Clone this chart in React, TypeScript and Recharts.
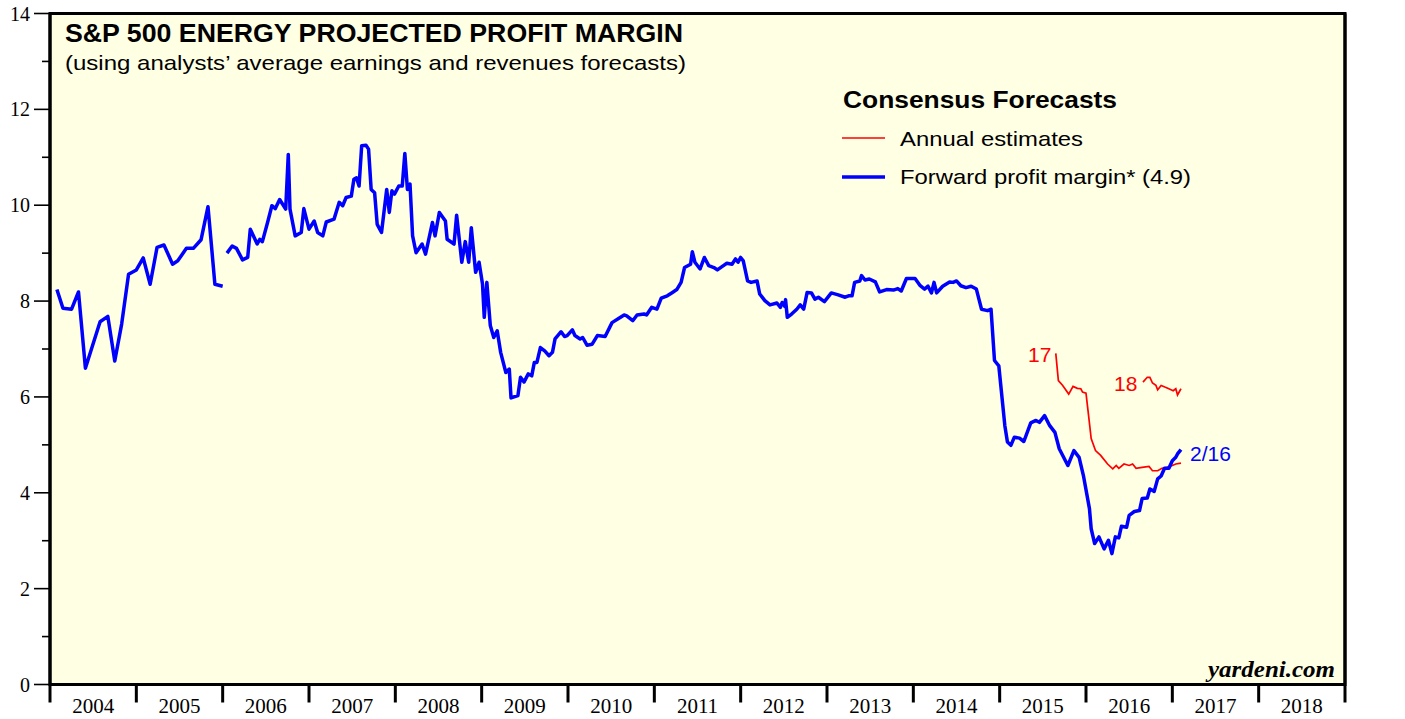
import React from "react";
import {
  LineChart,
  Line,
  XAxis,
  YAxis,
  CartesianGrid,
  ReferenceArea,
} from "recharts";

// decimal year / profit margin (%)
const forwardMargin: { t: number; v: number | null }[] = [
  { t: 2004.08, v: 8.24 }, { t: 2004.15, v: 7.85 }, { t: 2004.25, v: 7.83 },
  { t: 2004.33, v: 8.19 }, { t: 2004.41, v: 6.6 }, { t: 2004.58, v: 7.57 },
  { t: 2004.67, v: 7.68 }, { t: 2004.75, v: 6.75 }, { t: 2004.83, v: 7.52 },
  { t: 2004.91, v: 8.56 }, { t: 2005.0, v: 8.65 }, { t: 2005.08, v: 8.9 },
  { t: 2005.16, v: 8.35 }, { t: 2005.24, v: 9.12 }, { t: 2005.32, v: 9.17 },
  { t: 2005.42, v: 8.77 }, { t: 2005.48, v: 8.84 }, { t: 2005.58, v: 9.1 },
  { t: 2005.66, v: 9.1 }, { t: 2005.75, v: 9.28 }, { t: 2005.83, v: 9.97 },
  { t: 2005.91, v: 8.35 }, { t: 2006.0, v: 8.31 }, { t: 2006.02, v: null },
  { t: 2006.05, v: 9.0 }, { t: 2006.11, v: 9.15 }, { t: 2006.16, v: 9.1 },
  { t: 2006.23, v: 8.86 }, { t: 2006.29, v: 8.91 }, { t: 2006.32, v: 9.5 },
  { t: 2006.4, v: 9.19 }, { t: 2006.43, v: 9.29 }, { t: 2006.46, v: 9.24 },
  { t: 2006.52, v: 9.64 }, { t: 2006.57, v: 9.99 }, { t: 2006.61, v: 9.93 },
  { t: 2006.66, v: 10.12 }, { t: 2006.73, v: 9.92 }, { t: 2006.76, v: 11.06 },
  { t: 2006.78, v: 9.92 }, { t: 2006.84, v: 9.36 }, { t: 2006.91, v: 9.43 },
  { t: 2006.94, v: 9.93 }, { t: 2007.0, v: 9.5 }, { t: 2007.06, v: 9.67 },
  { t: 2007.1, v: 9.43 }, { t: 2007.16, v: 9.36 }, { t: 2007.2, v: 9.65 },
  { t: 2007.29, v: 9.71 }, { t: 2007.35, v: 10.06 }, { t: 2007.39, v: 9.99 },
  { t: 2007.43, v: 10.16 }, { t: 2007.49, v: 10.19 }, { t: 2007.52, v: 10.54 },
  { t: 2007.55, v: 10.57 }, { t: 2007.58, v: 10.4 }, { t: 2007.61, v: 11.24 },
  { t: 2007.66, v: 11.25 }, { t: 2007.69, v: 11.17 }, { t: 2007.72, v: 10.33 },
  { t: 2007.76, v: 10.26 }, { t: 2007.79, v: 9.6 }, { t: 2007.84, v: 9.43 },
  { t: 2007.9, v: 10.33 }, { t: 2007.93, v: 9.85 }, { t: 2007.96, v: 10.3 },
  { t: 2007.99, v: 10.23 }, { t: 2008.04, v: 10.4 }, { t: 2008.08, v: 10.4 },
  { t: 2008.11, v: 11.08 }, { t: 2008.14, v: 10.33 }, { t: 2008.17, v: 10.44 },
  { t: 2008.2, v: 9.36 }, { t: 2008.24, v: 9.01 }, { t: 2008.31, v: 9.19 },
  { t: 2008.35, v: 8.98 }, { t: 2008.43, v: 9.64 }, { t: 2008.46, v: 9.36 },
  { t: 2008.51, v: 9.85 }, { t: 2008.58, v: 9.67 }, { t: 2008.6, v: 9.29 },
  { t: 2008.68, v: 9.19 }, { t: 2008.71, v: 9.79 }, { t: 2008.77, v: 8.81 },
  { t: 2008.81, v: 9.24 }, { t: 2008.85, v: 8.81 }, { t: 2008.88, v: 9.53 },
  { t: 2008.93, v: 8.6 }, { t: 2008.97, v: 8.81 }, { t: 2009.01, v: 8.35 },
  { t: 2009.03, v: 7.66 }, { t: 2009.06, v: 8.39 }, { t: 2009.1, v: 7.49 },
  { t: 2009.14, v: 7.24 }, { t: 2009.18, v: 7.38 }, { t: 2009.22, v: 6.93 },
  { t: 2009.28, v: 6.51 }, { t: 2009.32, v: 6.58 }, { t: 2009.34, v: 5.98 },
  { t: 2009.42, v: 6.03 }, { t: 2009.45, v: 6.41 }, { t: 2009.49, v: 6.31 },
  { t: 2009.54, v: 6.48 }, { t: 2009.58, v: 6.44 }, { t: 2009.61, v: 6.72 },
  { t: 2009.64, v: 6.72 }, { t: 2009.68, v: 7.03 }, { t: 2009.73, v: 6.96 },
  { t: 2009.78, v: 6.86 }, { t: 2009.82, v: 6.93 }, { t: 2009.85, v: 7.21 },
  { t: 2009.92, v: 7.36 }, { t: 2009.96, v: 7.26 }, { t: 2009.99, v: 7.28 },
  { t: 2010.05, v: 7.4 }, { t: 2010.08, v: 7.28 }, { t: 2010.14, v: 7.21 },
  { t: 2010.17, v: 7.24 }, { t: 2010.22, v: 7.08 }, { t: 2010.28, v: 7.1 },
  { t: 2010.34, v: 7.28 }, { t: 2010.43, v: 7.26 }, { t: 2010.51, v: 7.55 },
  { t: 2010.59, v: 7.64 }, { t: 2010.65, v: 7.71 }, { t: 2010.68, v: 7.69 },
  { t: 2010.75, v: 7.59 }, { t: 2010.8, v: 7.71 }, { t: 2010.88, v: 7.73 },
  { t: 2010.91, v: 7.71 }, { t: 2010.97, v: 7.87 }, { t: 2011.03, v: 7.83 },
  { t: 2011.08, v: 8.06 }, { t: 2011.15, v: 8.11 }, { t: 2011.21, v: 8.18 },
  { t: 2011.26, v: 8.24 }, { t: 2011.31, v: 8.39 }, { t: 2011.35, v: 8.7 },
  { t: 2011.42, v: 8.77 }, { t: 2011.44, v: 9.03 }, { t: 2011.47, v: 8.81 },
  { t: 2011.53, v: 8.67 }, { t: 2011.58, v: 8.91 }, { t: 2011.63, v: 8.74 },
  { t: 2011.69, v: 8.7 }, { t: 2011.73, v: 8.65 }, { t: 2011.8, v: 8.74 },
  { t: 2011.84, v: 8.79 }, { t: 2011.9, v: 8.77 }, { t: 2011.94, v: 8.88 },
  { t: 2011.97, v: 8.81 }, { t: 2012.0, v: 8.91 }, { t: 2012.03, v: 8.84 },
  { t: 2012.08, v: 8.42 }, { t: 2012.12, v: 8.39 }, { t: 2012.19, v: 8.42 },
  { t: 2012.22, v: 8.15 }, { t: 2012.28, v: 8.01 }, { t: 2012.34, v: 7.92 },
  { t: 2012.42, v: 7.96 }, { t: 2012.46, v: 7.87 }, { t: 2012.48, v: 7.97 },
  { t: 2012.51, v: 7.89 }, { t: 2012.52, v: 8.03 }, { t: 2012.54, v: 7.66 },
  { t: 2012.59, v: 7.73 }, { t: 2012.65, v: 7.83 }, { t: 2012.69, v: 7.92 },
  { t: 2012.73, v: 7.83 }, { t: 2012.77, v: 8.18 }, { t: 2012.82, v: 8.17 },
  { t: 2012.86, v: 8.04 }, { t: 2012.9, v: 8.08 }, { t: 2012.97, v: 7.99 },
  { t: 2013.05, v: 8.17 }, { t: 2013.13, v: 8.13 }, { t: 2013.21, v: 8.08 },
  { t: 2013.25, v: 8.11 }, { t: 2013.29, v: 8.11 }, { t: 2013.32, v: 8.39 },
  { t: 2013.38, v: 8.42 }, { t: 2013.4, v: 8.53 }, { t: 2013.44, v: 8.44 },
  { t: 2013.49, v: 8.46 }, { t: 2013.56, v: 8.4 }, { t: 2013.61, v: 8.19 },
  { t: 2013.69, v: 8.24 }, { t: 2013.77, v: 8.23 }, { t: 2013.82, v: 8.26 },
  { t: 2013.86, v: 8.21 }, { t: 2013.92, v: 8.47 }, { t: 2014.02, v: 8.47 },
  { t: 2014.08, v: 8.32 }, { t: 2014.13, v: 8.25 }, { t: 2014.17, v: 8.31 },
  { t: 2014.21, v: 8.17 }, { t: 2014.24, v: 8.39 }, { t: 2014.27, v: 8.17 },
  { t: 2014.34, v: 8.31 }, { t: 2014.42, v: 8.4 }, { t: 2014.46, v: 8.39 },
  { t: 2014.5, v: 8.42 }, { t: 2014.55, v: 8.32 }, { t: 2014.61, v: 8.28 },
  { t: 2014.67, v: 8.31 }, { t: 2014.73, v: 8.25 }, { t: 2014.79, v: 7.83 },
  { t: 2014.86, v: 7.8 }, { t: 2014.9, v: 7.83 }, { t: 2014.94, v: 6.76 },
  { t: 2014.99, v: 6.65 }, { t: 2015.06, v: 5.4 }, { t: 2015.09, v: 5.06 },
  { t: 2015.13, v: 4.99 }, { t: 2015.17, v: 5.16 }, { t: 2015.23, v: 5.14 },
  { t: 2015.28, v: 5.07 }, { t: 2015.36, v: 5.46 }, { t: 2015.42, v: 5.51 },
  { t: 2015.46, v: 5.47 }, { t: 2015.52, v: 5.61 }, { t: 2015.58, v: 5.4 },
  { t: 2015.64, v: 5.26 }, { t: 2015.69, v: 4.92 }, { t: 2015.79, v: 4.57 },
  { t: 2015.86, v: 4.88 }, { t: 2015.92, v: 4.74 }, { t: 2015.97, v: 4.36 },
  { t: 2016.04, v: 3.67 }, { t: 2016.06, v: 3.25 }, { t: 2016.1, v: 2.94 },
  { t: 2016.15, v: 3.08 }, { t: 2016.21, v: 2.83 }, { t: 2016.26, v: 3.01 },
  { t: 2016.3, v: 2.73 }, { t: 2016.34, v: 3.08 }, { t: 2016.38, v: 3.06 },
  { t: 2016.41, v: 3.3 }, { t: 2016.47, v: 3.28 }, { t: 2016.5, v: 3.53 },
  { t: 2016.56, v: 3.61 }, { t: 2016.62, v: 3.63 }, { t: 2016.65, v: 3.88 },
  { t: 2016.71, v: 3.89 }, { t: 2016.74, v: 4.08 }, { t: 2016.79, v: 4.03 },
  { t: 2016.83, v: 4.29 }, { t: 2016.87, v: 4.35 }, { t: 2016.91, v: 4.51 },
  { t: 2016.96, v: 4.51 }, { t: 2017.0, v: 4.67 }, { t: 2017.04, v: 4.74 },
  { t: 2017.06, v: 4.81 }, { t: 2017.1, v: 4.9 },
];

const est2017 = [
  { t: 2015.65, v: 6.91 }, { t: 2015.68, v: 6.34 }, { t: 2015.73, v: 6.24 },
  { t: 2015.8, v: 6.06 }, { t: 2015.85, v: 6.22 }, { t: 2015.9, v: 6.18 },
  { t: 2015.94, v: 6.17 }, { t: 2015.96, v: 6.1 }, { t: 2016.0, v: 6.08 },
  { t: 2016.03, v: 5.61 }, { t: 2016.06, v: 5.13 }, { t: 2016.11, v: 4.88 },
  { t: 2016.17, v: 4.78 }, { t: 2016.25, v: 4.6 }, { t: 2016.31, v: 4.5 },
  { t: 2016.35, v: 4.57 }, { t: 2016.38, v: 4.51 }, { t: 2016.44, v: 4.6 },
  { t: 2016.5, v: 4.57 }, { t: 2016.54, v: 4.6 }, { t: 2016.58, v: 4.51 },
  { t: 2016.65, v: 4.53 }, { t: 2016.73, v: 4.55 }, { t: 2016.77, v: 4.46 },
  { t: 2016.83, v: 4.46 }, { t: 2016.88, v: 4.51 }, { t: 2016.94, v: 4.53 },
  { t: 2017.0, v: 4.57 }, { t: 2017.04, v: 4.6 }, { t: 2017.1, v: 4.62 },
];

const est2018 = [
  { t: 2016.66, v: 6.31 }, { t: 2016.71, v: 6.41 }, { t: 2016.74, v: 6.41 },
  { t: 2016.77, v: 6.29 }, { t: 2016.81, v: 6.24 }, { t: 2016.83, v: 6.15 },
  { t: 2016.87, v: 6.24 }, { t: 2016.92, v: 6.2 }, { t: 2016.96, v: 6.17 },
  { t: 2017.01, v: 6.13 }, { t: 2017.04, v: 6.17 }, { t: 2017.06, v: 6.04 },
  { t: 2017.1, v: 6.17 },
];

const years = [2004, 2005, 2006, 2007, 2008, 2009, 2010, 2011, 2012, 2013, 2014, 2015, 2016, 2017, 2018];
const yTicks = [0, 1, 2, 3, 4, 5, 6, 7, 8, 9, 10, 11, 12, 13, 14];
// year boundaries plus mid-year spots for the labels
const xTicks = [...years.flatMap((y) => [y, y + 0.5]), 2019];

const serif = "'Liberation Serif', 'DejaVu Serif', serif";
const sans = "'Liberation Sans', Arial, sans-serif";

const LeftTick = (p: any) => {
  const v = p.payload.value;
  const major = v % 2 === 0;
  const len = major ? 16 : 8;
  return (
    <g>
      <line x1={p.x - len} x2={p.x} y1={p.y} y2={p.y} stroke="#000" strokeWidth={1.6} />
      {major && (
        <text x={p.x - len - 4} y={p.y} dy={7} textAnchor="end" fontFamily={serif} fontSize={20} fill="#000">
          {v}
        </text>
      )}
    </g>
  );
};

const RightTick = (p: any) => {
  const v = p.payload.value;
  const major = v % 2 === 0;
  const len = major ? 16 : 8;
  return (
    <g>
      <line x1={p.x} x2={p.x + len} y1={p.y} y2={p.y} stroke="#000" strokeWidth={1.6} />
      {major && (
        <text x={p.x + len + 4} y={p.y} dy={7} textAnchor="start" fontFamily={serif} fontSize={20} fill="#000">
          {v}
        </text>
      )}
    </g>
  );
};

const YearTick = (p: any) => {
  const v = p.payload.value;
  if (Number.isInteger(v)) {
    return <line x1={p.x} x2={p.x} y1={p.y} y2={p.y + 18} stroke="#000" strokeWidth={3} />;
  }
  return (
    <text x={p.x} y={p.y + 28} textAnchor="middle" fontFamily={serif} fontSize={21} fill="#000">
      {Math.floor(v)}
    </text>
  );
};

export default function App() {
  return (
    <div style={{ position: "absolute", left: 0, top: 0, width: 1405, height: 719, background: "#fff" }}>
      <LineChart width={1405} height={719} margin={{ top: 13.5, right: 0, bottom: 0, left: 0 }}>
        <CartesianGrid horizontal={false} vertical={false} fill="#FFFFE4" />
        <XAxis
          dataKey="t"
          type="number"
          domain={[2004, 2019]}
          ticks={xTicks}
          interval={0}
          height={34.5}
          tickSize={0}
          tickMargin={0}
          tickLine={false}
          axisLine={{ stroke: "#000", strokeWidth: 3 }}
          tick={<YearTick />}
          allowDataOverflow
        />
        <YAxis
          yAxisId="l"
          orientation="left"
          width={50}
          domain={[0, 14]}
          ticks={yTicks}
          interval={0}
          tickSize={0}
          tickMargin={0}
          tickLine={false}
          axisLine={{ stroke: "#000", strokeWidth: 3 }}
          tick={<LeftTick />}
        />
        <YAxis
          yAxisId="r"
          orientation="right"
          width={60}
          domain={[0, 14]}
          ticks={yTicks}
          interval={0}
          tickSize={0}
          tickMargin={0}
          tickLine={false}
          axisLine={{ stroke: "#000", strokeWidth: 3 }}
          tick={<RightTick />}
        />
        <ReferenceArea yAxisId="l" x1={2004} x2={2019} y1={0} y2={14} fill="none" stroke="#000" strokeWidth={3} />
        <Line yAxisId="l" data={est2017} dataKey="v" stroke="#ff0000" strokeWidth={1.7} dot={false} isAnimationActive={false} />
        <Line yAxisId="l" data={est2018} dataKey="v" stroke="#ff0000" strokeWidth={1.7} dot={false} isAnimationActive={false} />
        <Line
          yAxisId="l"
          data={forwardMargin}
          dataKey="v"
          stroke="#0000ff"
          strokeWidth={3.5}
          strokeLinejoin="round"
          dot={false}
          connectNulls={false}
          isAnimationActive={false}
        />
      </LineChart>
      <svg width={1405} height={719} style={{ position: "absolute", left: 0, top: 0, pointerEvents: "none" }}>
        <text x={65} y={42} fontFamily={sans} fontWeight="bold" fontSize={25} textLength={618} lengthAdjust="spacingAndGlyphs" fill="#000">
          S&amp;P 500 ENERGY PROJECTED PROFIT MARGIN
        </text>
        <text x={65} y={70} fontFamily={sans} fontSize={21} textLength={621} lengthAdjust="spacingAndGlyphs" fill="#000">
          (using analysts’ average earnings and revenues forecasts)
        </text>
        <text x={843} y={108} fontFamily={sans} fontWeight="bold" fontSize={23} textLength={274} lengthAdjust="spacingAndGlyphs" fill="#000">
          Consensus Forecasts
        </text>
        <line x1={842} x2={885} y1={138} y2={138} stroke="#ff0000" strokeWidth={1.7} />
        <text x={900} y={146} fontFamily={sans} fontSize={21} textLength={183} lengthAdjust="spacingAndGlyphs" fill="#000">
          Annual estimates
        </text>
        <line x1={842} x2={885} y1={177} y2={177} stroke="#0000ff" strokeWidth={3.5} />
        <text x={900} y={184} fontFamily={sans} fontSize={21} textLength={291} lengthAdjust="spacingAndGlyphs" fill="#000">
          Forward profit margin* (4.9)
        </text>
        <text x={1028} y={362} fontFamily={sans} fontSize={21} fill="#ff0000">17</text>
        <text x={1114} y={391} fontFamily={sans} fontSize={21} fill="#ff0000">18</text>
        <text x={1190} y={461} fontFamily={sans} fontSize={21} fill="#0000ff">2/16</text>
        <text x={1335} y={677} textAnchor="end" fontFamily={serif} fontWeight="bold" fontStyle="italic" fontSize={24} textLength={127} lengthAdjust="spacingAndGlyphs" fill="#000">
          yardeni.com
        </text>
      </svg>
    </div>
  );
}
